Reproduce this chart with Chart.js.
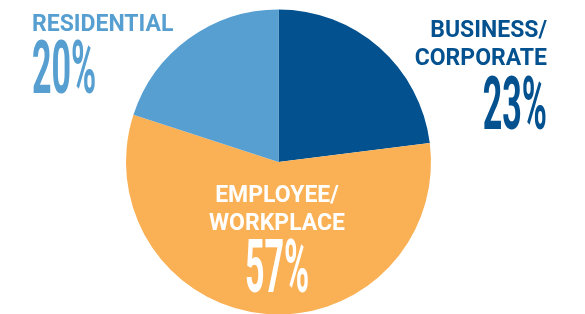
<!DOCTYPE html>
<html>
<head>
<meta charset="utf-8">
<script src="https://cdn.jsdelivr.net/npm/chart.js@4/dist/chart.umd.min.js"></script>
<style>
  html, body { margin: 0; padding: 0; overflow: hidden; background: #fff; }
  #wrap { position: relative; width: 585px; height: 330px; }
</style>
</head>
<body>
<div id="wrap"><canvas id="myChart"></canvas></div>
<script>
// data
var categories = ['BUSINESS/\nCORPORATE', 'EMPLOYEE/\nWORKPLACE', 'RESIDENTIAL'];
var shares = [23, 57, 20];
var colours = ['#03518f', '#fab155', '#569fd0'];
var textColours = ['#03518f', '#ffffff', '#569fd0'];

// where each label sits: x, align, line baselines, percent baseline
var labelSpots = [
    { x: 547, align: 'right', lines: [37, 65], pct: 129 },
    { x: 277, align: 'center', lines: [202, 230], pct: 292 },
    { x: 32, align: 'left', lines: [31], pct: 93 }
];

var labelsPlugin = {
    id: 'sliceLabels',
    afterDraw: function (chart) {
        var ctx = chart.ctx;
        ctx.save();
        for (var i = 0; i < categories.length; i++) {
            var spot = labelSpots[i];
            var lines = categories[i].split('\n');
            ctx.fillStyle = textColours[i];
            ctx.textBaseline = 'alphabetic';
            ctx.textAlign = spot.align;
            ctx.font = 'bold 23px Roboto';
            for (var j = 0; j < lines.length; j++) {
                ctx.fillText(lines[j], spot.x, spot.lines[j]);
            }
            // condensed big percent
            var sx = 0.46;
            ctx.save();
            ctx.translate(spot.x, spot.pct);
            ctx.scale(sx, 1);
            ctx.font = 'bold 74px Roboto';
            ctx.fillText(shares[i] + '%', 0, 0);
            ctx.restore();
        }
        ctx.restore();
    }
};

var ctx = document.getElementById('myChart');

var chart = new Chart(ctx, {
    type: 'pie',
    data: {
        labels: categories,
        datasets: [{
            data: shares,
            backgroundColor: colours,
            borderWidth: 0
        }]
    },
    options: {
        responsive: true,
        maintainAspectRatio: false,
        animation: false,
        layout: { padding: { top: 9.5, bottom: 15.5, left: 0, right: 28 } },
        plugins: {
            legend: { display: false },
            tooltip: { enabled: false }
        }
    },
    plugins: [labelsPlugin]
});
</script>
</body>
</html>
